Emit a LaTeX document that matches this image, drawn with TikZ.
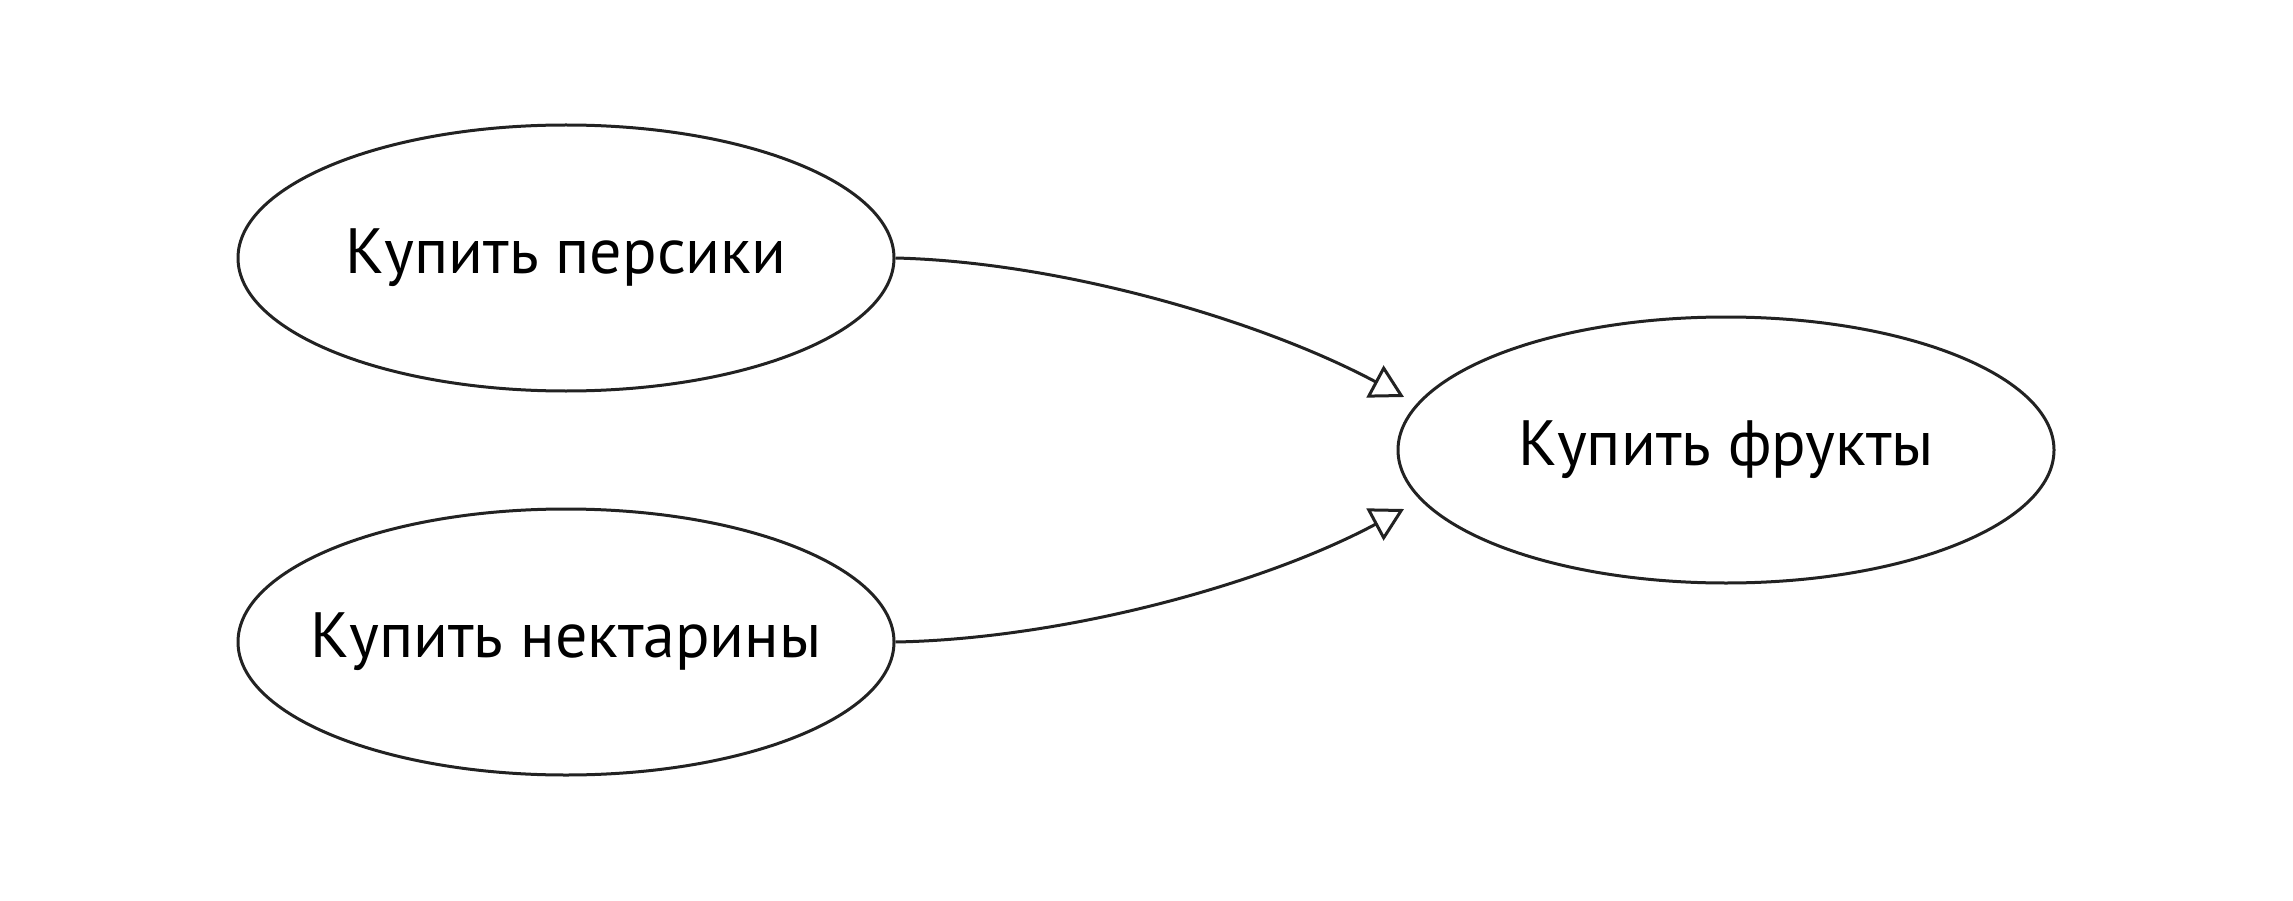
\documentclass[tikz,border=0pt]{standalone}
\usepackage{fontspec}
\setmainfont{PT Sans}
\usetikzlibrary{arrows.meta,calc,shapes.geometric}
\definecolor{inkc}{HTML}{222222}
\newcommand{\zw}[1]{\makebox[0pt]{#1}}
\begin{document}
\begin{tikzpicture}[x=1pt,y=-1pt,
  goal/.style={ellipse,draw=inkc,line width=3pt,minimum width=656pt,minimum height=266pt,inner sep=0pt,
    font=\fontsize{64}{72}\selectfont,text=black},
  link/.style={draw=inkc,line width=3pt,-{Triangle[open,length=33pt,width=36pt,line width=3pt]}}]
\useasboundingbox (0,0) rectangle (2293,901);
\node[goal] (e1) at (566,258) {\zw{Купить персики}};
\node[goal] (e2) at (566,642) {\zw{Купить нектарины}};
\node[goal] (e3) at (1726,450) {\zw{Купить фрукты}};
\coordinate (t1) at (1404,397);
\coordinate (t2) at (1404,509);
\draw[link] (e1.east) .. controls (1060,262) and (1260,320) .. (t1);
\draw[link] (e2.east) .. controls (1060,639) and (1260,586) .. (t2);
\end{tikzpicture}
\end{document}
